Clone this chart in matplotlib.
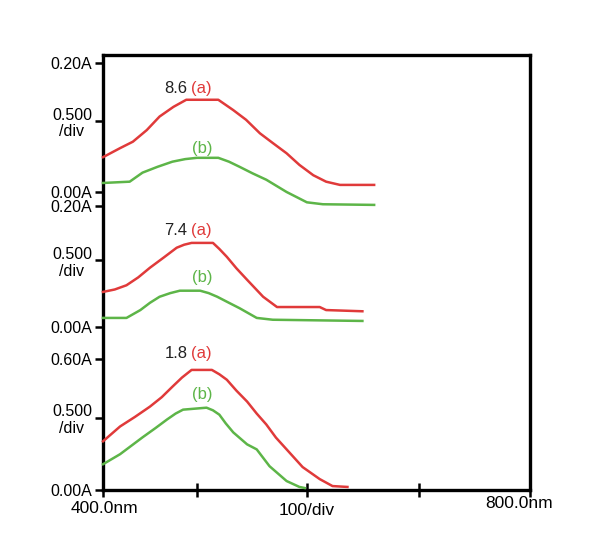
import matplotlib
matplotlib.use("Agg")
import matplotlib.pyplot as plt

plt.rcParams['font.family'] = ['Liberation Sans', 'DejaVu Sans']

# wavelength (nm) / absorbance, one set per panel
top_wl_a = [400, 416, 428, 441, 453, 466, 478, 508, 522, 534, 547, 559, 572, 584, 597, 609, 622, 654]
top_abs_a = [0.054, 0.068, 0.078, 0.096, 0.117, 0.132, 0.143, 0.143, 0.127, 0.112, 0.091, 0.076,
             0.060, 0.042, 0.026, 0.016, 0.011, 0.011]
top_wl_b = [400, 425, 437, 451, 465, 477, 488, 508, 518, 528, 540, 553, 572, 591, 606, 654]
top_abs_b = [0.014, 0.016, 0.030, 0.039, 0.047, 0.051, 0.053, 0.053, 0.047, 0.039, 0.029, 0.019,
             0.0, -0.016, -0.019, -0.020]

mid_wl_a = [400, 411, 422, 433, 444, 457, 469, 476, 483, 503, 509, 516, 525, 535, 550, 563, 603, 609, 643]
mid_abs_a = [0.058, 0.062, 0.069, 0.082, 0.098, 0.115, 0.131, 0.136, 0.139, 0.139, 0.129, 0.116, 0.097,
             0.078, 0.050, 0.033, 0.033, 0.028, 0.026]
mid_wl_b = [400, 422, 435, 444, 453, 463, 472, 491, 499, 507, 518, 528, 544, 559, 643]
mid_abs_b = [0.015, 0.015, 0.028, 0.040, 0.050, 0.056, 0.060, 0.060, 0.056, 0.050, 0.040, 0.031,
             0.015, 0.012, 0.010]

bot_wl_a = [400, 416, 430, 444, 455, 465, 474, 483, 502, 509, 516, 525, 535, 544, 553, 562, 572, 587,
            603, 615, 629]
bot_abs_a = [0.223, 0.291, 0.335, 0.382, 0.425, 0.473, 0.515, 0.550, 0.550, 0.530, 0.505, 0.455, 0.405,
             0.350, 0.300, 0.240, 0.186, 0.105, 0.050, 0.018, 0.014]
bot_wl_b = [400, 416, 437, 449, 460, 468, 475, 497, 503, 509, 515, 522, 535, 544, 556, 572, 584, 589]
bot_abs_b = [0.118, 0.164, 0.241, 0.283, 0.323, 0.350, 0.368, 0.377, 0.365, 0.345, 0.305, 0.264, 0.209,
             0.186, 0.109, 0.041, 0.014, 0.009]

x_ticks = [400, 488, 591, 696, 800]

panels = [
    (top_wl_a, top_abs_a, top_wl_b, top_abs_b, 0.20, ['0.00A', '0.500\n/div', '0.20A'], '8.6', 192, 63),
    (mid_wl_a, mid_abs_a, mid_wl_b, mid_abs_b, 0.20, ['0.00A', '0.500\n/div', '0.20A'], '7.4', 327, 206),
    (bot_wl_a, bot_abs_a, bot_wl_b, bot_abs_b, 0.60, ['0.00A', '0.500\n/div', '0.60A'], '1.8', 490, 359),
]
label_pos = [(0.161, 0.068), (0.160, 0.081), (0.627, 0.436)]

RED = '#e03a3a'
GREEN = '#5db548'
W, H = 600, 548

fig = plt.figure(figsize=(6, 5.48), dpi=100)

# outer frame and wavelength axis
left, right, top, bottom = 103, 530, 55, 490
ax = fig.add_axes([left / W, 1 - bottom / H, (right - left) / W, (bottom - top) / H])
ax.set_xlim(400, 800)
ax.set_ylim(0, 1)
ax.set_yticks([])
ax.set_xticks(x_ticks)
ax.set_xticklabels([])
ax.tick_params(axis='x', direction='inout', length=10, width=1.8)
for s in ax.spines.values():
    s.set_linewidth(2.4)
tr = ax.get_xaxis_transform()
ax.text(401, -0.042, '400.0nm', transform=tr, ha='center', va='center', fontsize=12.5)
ax.text(591, -0.046, '100/div', transform=tr, ha='center', va='center', fontsize=12.5)
ax.text(790, -0.032, '800.0nm', transform=tr, ha='center', va='center', fontsize=12.5)

for i, (wa, ya, wb, yb, ymax, labels, val, y0, y1) in enumerate(panels):
    p = fig.add_axes([left / W, 1 - y0 / H, (right - left) / W, (y0 - y1) / H])
    p.patch.set_alpha(0)
    p.set_xlim(400, 800)
    p.set_ylim(0, ymax)
    for s in p.spines.values():
        s.set_visible(False)
    p.set_xticks([])
    p.set_yticks([0, ymax * 0.55, ymax])
    p.set_yticklabels(labels, fontsize=11.5, linespacing=1.15, multialignment='center')
    p.tick_params(axis='y', direction='out', length=6, width=1.8, pad=2)
    p.plot(wa, ya, color=RED, lw=1.8, clip_on=False)
    p.plot(wb, yb, color=GREEN, lw=1.8, clip_on=False)
    ya_lab, yb_lab = label_pos[i]
    p.text(479, ya_lab, val, ha='right', va='center', fontsize=12, color='#222222')
    p.text(482, ya_lab, '(a)', ha='left', va='center', fontsize=12, color=RED)
    p.text(493, yb_lab, '(b)', ha='center', va='center', fontsize=12, color=GREEN)

fig.savefig('out.png', dpi=100)
